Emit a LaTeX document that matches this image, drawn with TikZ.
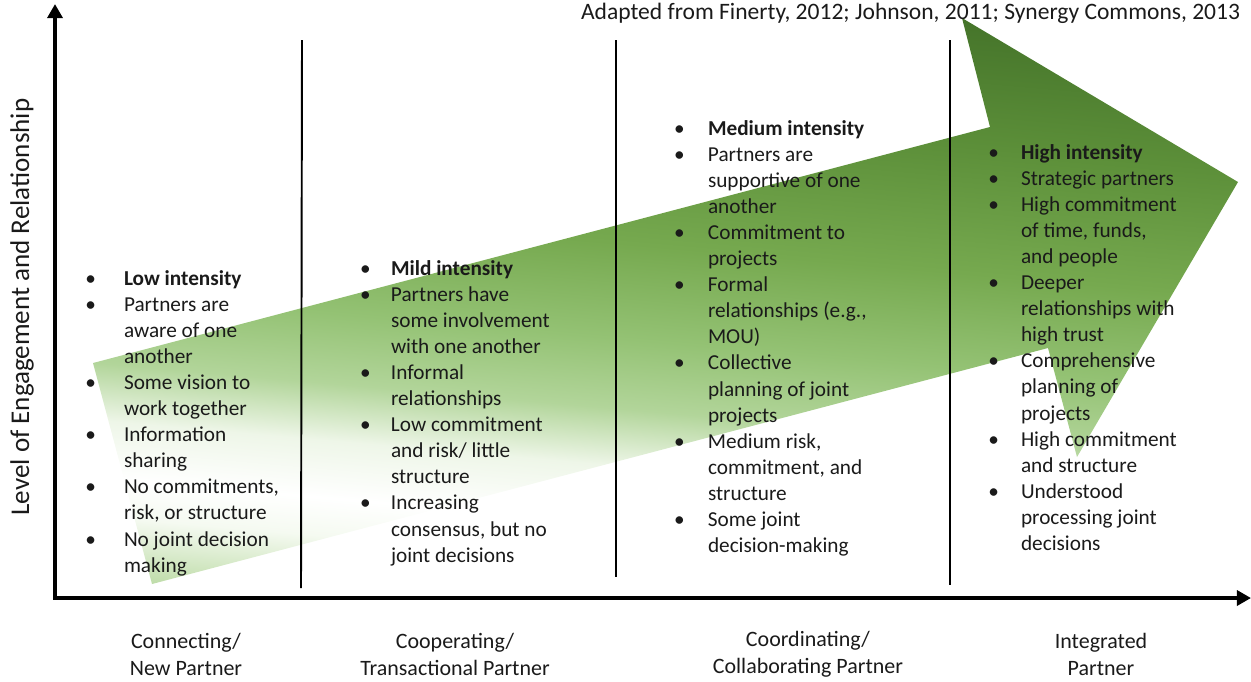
\documentclass[tikz,border=0pt]{standalone}
\usepackage{fontspec}
\setmainfont{Carlito}
\usetikzlibrary{arrows.meta}
\definecolor{txt}{HTML}{1A1A1A}
\definecolor{sA}{HTML}{BEDCA8}
\definecolor{sB}{HTML}{F5FAF1}
\definecolor{sC}{HTML}{FFFFFF}
\definecolor{sD}{HTML}{EEF6E8}
\definecolor{sE}{HTML}{B2D59A}
\definecolor{sF}{HTML}{94C274}
\definecolor{sG}{HTML}{76A94F}
\definecolor{sH}{HTML}{5C8F39}
\definecolor{sI}{HTML}{45742A}
\pgfdeclareverticalshading{arrowshade}{100bp}{color(0bp)=(sA); color(25bp)=(sA); color(30bp)=(sB); color(33bp)=(sC); color(37.5bp)=(sD); color(42bp)=(sE); color(47.5bp)=(sF); color(55bp)=(sG); color(65bp)=(sH); color(75bp)=(sI); color(100bp)=(sI)}
\newlength\bgap
\newcommand\bl{\makebox[0pt][r]{\textbullet\hspace{\bgap}}}
\begin{document}
\begin{tikzpicture}[x=0.02cm,y=-0.02cm,
  every node/.style={inner sep=0pt, outer sep=0pt, text=txt},
  item/.style={anchor=base west, font=\fontsize{12.1}{14.5}\selectfont},
  lbl/.style={align=center, font=\fontsize{12.5}{15.3}\selectfont},
  divider/.style={draw=black, line width=1.1pt},
  axis/.style={line width=2.3pt, line join=miter, {Triangle[length=8pt,width=8.5pt]}-{Triangle[length=8pt,width=8.5pt]}}]
\useasboundingbox (0,0) rectangle (1251,681);
\clip (0,0) rectangle (1251,681);
% green arrow
\coordinate (A) at (93,363);
\coordinate (B) at (990,127);
\coordinate (C) at (962,18);
\coordinate (D) at (1238,182);
\coordinate (E) at (1077,457);
\coordinate (F) at (1048,348);
\coordinate (G) at (152,584);
\begin{scope}
  \clip (A) -- (B) -- (C) -- (D) -- (E) -- (F) -- (G) -- cycle;
  \shade[shading=arrowshade, transform canvas={rotate around={-5:(665,300)}}] (-300,-7) rectangle (1600,628);
\end{scope}
% citation
\node[anchor=base east, font=\fontsize{13.4}{16}\selectfont] (cite) at (1240,19) {Adapted from Finerty, 2012; Johnson, 2011; Synergy Commons, 2013};
% dividers
\coordinate (d1t) at (302,40); \coordinate (d1b) at (301,588);
\coordinate (d2t) at (616,40); \coordinate (d2b) at (616,577);
\coordinate (d3t) at (950,40); \coordinate (d3b) at (950,585);
\draw[divider] (d1t) -- (d1b);
\draw[divider] (d2t) -- (d2b);
\draw[divider] (d3t) -- (d3b);
% axes
\coordinate (ytip) at (55,4);
\coordinate (origin) at (55,598);
\coordinate (xtip) at (1251,598);
\draw[axis] (ytip) -- (origin) -- (xtip);
% column 1
\setlength\bgap{15.9pt}
\foreach \s [count=\i] in {{\bl\textbf{Low intensity}},{\bl Partners are},{aware of one},{another},{\bl Some vision to},{work together},{\bl Information},{sharing},{\bl No commitments,},{risk, or structure},{\bl No joint decision},{making}}
  \node[item] (a\i) at (124,{285+26.1*(\i-1)}) {\s};
% column 2
\setlength\bgap{11.5pt}
\foreach \s [count=\i] in {{\bl\textbf{Mild intensity}},{\bl Partners have},{some involvement},{with one another},{\bl Informal},{relationships},{\bl Low commitment},{and risk/ little},{structure},{\bl Increasing},{consensus, but no},{joint decisions}}
  \node[item] (b\i) at (391,{275+26.1*(\i-1)}) {\s};
% column 3
\setlength\bgap{13.2pt}
\foreach \s [count=\i] in {{\bl\textbf{Medium intensity}},{\bl Partners are},{supportive of one},{another},{\bl Commitment to},{projects},{\bl Formal},{relationships (e.g.,},{MOU)},{\bl Collective},{planning of joint},{projects},{\bl Medium risk,},{commitment, and},{structure},{\bl Some joint},{decision-making}}
  \node[item] (c\i) at (708,{135+26.1*(\i-1)}) {\s};
% column 4
\setlength\bgap{12.6pt}
\foreach \s [count=\i] in {{\bl\textbf{High intensity}},{\bl Strategic partners},{\bl High commitment},{of time, funds,},{and people},{\bl Deeper},{relationships with},{high trust},{\bl Comprehensive},{planning of},{projects},{\bl High commitment},{and structure},{\bl Understood},{processing joint},{decisions}}
  \node[item] (e\i) at (1021,{159+26.1*(\i-1)}) {\s};
% axis labels
\node[rotate=90, font=\fontsize{15.4}{18}\selectfont] (ylab) at (22,307) {Level of Engagement and Relationship};
\node[lbl] (x1) at (186,654) {Connecting/\\New Partner};
\node[lbl] (x2) at (455,654) {Cooperating/\\Transactional Partner};
\node[lbl] (x3) at (808,654) {Coordinating/\\Collaborating Partner};
\node[lbl] (x4) at (1101,654) {Integrated\\Partner};
\end{tikzpicture}
\end{document}
